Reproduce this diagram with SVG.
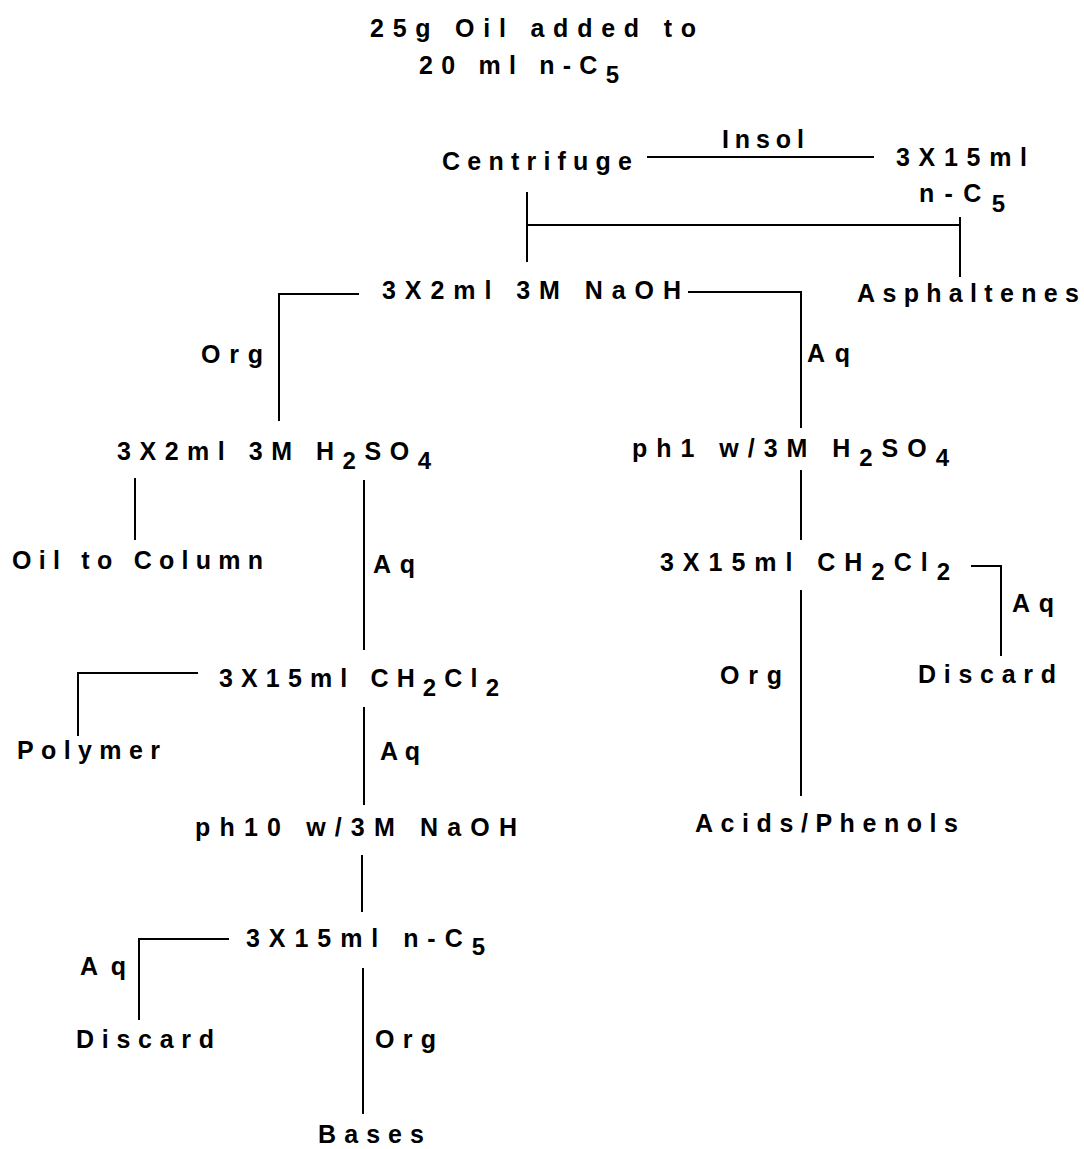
<svg xmlns="http://www.w3.org/2000/svg" width="1084" height="1149" viewBox="0 0 1084 1149">
<style>
text{font-family:"Liberation Sans",Arial,sans-serif;font-weight:bold;font-size:25px;fill:#000}
.s{font-size:24px}
line,polyline{stroke:#000;stroke-width:2;fill:none}
</style>
<rect width="1084" height="1149" fill="#fff"/>
<g id="connectors">
<line x1="647" y1="157" x2="874" y2="157"/>
<line x1="527" y1="192" x2="527" y2="262"/>
<line x1="527" y1="225" x2="960" y2="225"/>
<line x1="960" y1="217" x2="960" y2="277"/>
<polyline points="688,292 801,292 801,428"/>
<polyline points="359,294 279,294 279,421"/>
<line x1="135" y1="478" x2="135" y2="540"/>
<line x1="364" y1="480" x2="364" y2="650"/>
<line x1="801" y1="470" x2="801" y2="540"/>
<polyline points="971,566 1001,566 1001,656"/>
<line x1="801" y1="590" x2="801" y2="796"/>
<polyline points="198,673 78,673 78,736"/>
<line x1="364" y1="707" x2="364" y2="805"/>
<line x1="362" y1="855" x2="362" y2="912"/>
<polyline points="229,939 139,939 139,1020"/>
<line x1="363" y1="968" x2="363" y2="1114"/>
</g>
<g id="n-start"><text x="370" y="37" textLength="326" lengthAdjust="spacing">25g Oil added to</text><text x="419" y="74" textLength="200" lengthAdjust="spacing">20 ml n-C<tspan class="s" dy="9">5</tspan></text></g>
<g id="n-centrifuge"><text x="442" y="170" textLength="190" lengthAdjust="spacing">Centrifuge</text></g>
<g id="l-insol"><text x="722" y="148" textLength="82" lengthAdjust="spacing">Insol</text></g>
<g id="n-wash"><text x="896" y="166" textLength="131" lengthAdjust="spacing">3X15ml</text><text x="919" y="202" textLength="86" lengthAdjust="spacing">n-C<tspan class="s" dy="10">5</tspan></text></g>
<g id="n-asph"><text x="857" y="302" textLength="222" lengthAdjust="spacing">Asphaltenes</text></g>
<g id="n-naoh"><text x="382" y="299" textLength="299" lengthAdjust="spacing">3X2ml 3M NaOH</text></g>
<g id="l-org1"><text x="201" y="363" textLength="62" lengthAdjust="spacing">Org</text></g>
<g id="l-aq1"><text x="807" y="362" textLength="43" lengthAdjust="spacing">Aq</text></g>
<g id="n-h2so4"><text x="117" y="460" textLength="314" lengthAdjust="spacing">3X2ml 3M H<tspan class="s" dy="9">2</tspan><tspan dy="-9">SO</tspan><tspan class="s" dy="9">4</tspan></text></g>
<g id="n-ph1"><text x="632" y="457" textLength="317" lengthAdjust="spacing">ph1 w/3M H<tspan class="s" dy="9">2</tspan><tspan dy="-9">SO</tspan><tspan class="s" dy="9">4</tspan></text></g>
<g id="n-oil"><text x="12" y="569" textLength="251" lengthAdjust="spacing">Oil to Column</text></g>
<g id="l-aq2"><text x="373" y="573" textLength="42" lengthAdjust="spacing">Aq</text></g>
<g id="n-ch2cl2r"><text x="660" y="571" textLength="290" lengthAdjust="spacing">3X15ml CH<tspan class="s" dy="9">2</tspan><tspan dy="-9">Cl</tspan><tspan class="s" dy="9">2</tspan></text></g>
<g id="l-aq3"><text x="1012" y="612" textLength="42" lengthAdjust="spacing">Aq</text></g>
<g id="n-discard1"><text x="918" y="683" textLength="138" lengthAdjust="spacing">Discard</text></g>
<g id="l-org2"><text x="720" y="684" textLength="62" lengthAdjust="spacing">Org</text></g>
<g id="n-acids"><text x="695" y="832" textLength="263" lengthAdjust="spacing">Acids/Phenols</text></g>
<g id="n-ch2cl2l"><text x="219" y="687" textLength="280" lengthAdjust="spacing">3X15ml CH<tspan class="s" dy="9">2</tspan><tspan dy="-9">Cl</tspan><tspan class="s" dy="9">2</tspan></text></g>
<g id="n-polymer"><text x="17" y="759" textLength="143" lengthAdjust="spacing">Polymer</text></g>
<g id="l-aq4"><text x="380" y="760" textLength="40" lengthAdjust="spacing">Aq</text></g>
<g id="n-ph10"><text x="195" y="836" textLength="322" lengthAdjust="spacing">ph10 w/3M NaOH</text></g>
<g id="n-nc5"><text x="246" y="947" textLength="239" lengthAdjust="spacing">3X15ml n-C<tspan class="s" dy="8">5</tspan></text></g>
<g id="l-aq5"><text x="80" y="975" textLength="46" lengthAdjust="spacing">Aq</text></g>
<g id="n-discard2"><text x="76" y="1048" textLength="138" lengthAdjust="spacing">Discard</text></g>
<g id="l-org3"><text x="375" y="1048" textLength="61" lengthAdjust="spacing">Org</text></g>
<g id="n-bases"><text x="318" y="1143" textLength="106" lengthAdjust="spacing">Bases</text></g>
</svg>
